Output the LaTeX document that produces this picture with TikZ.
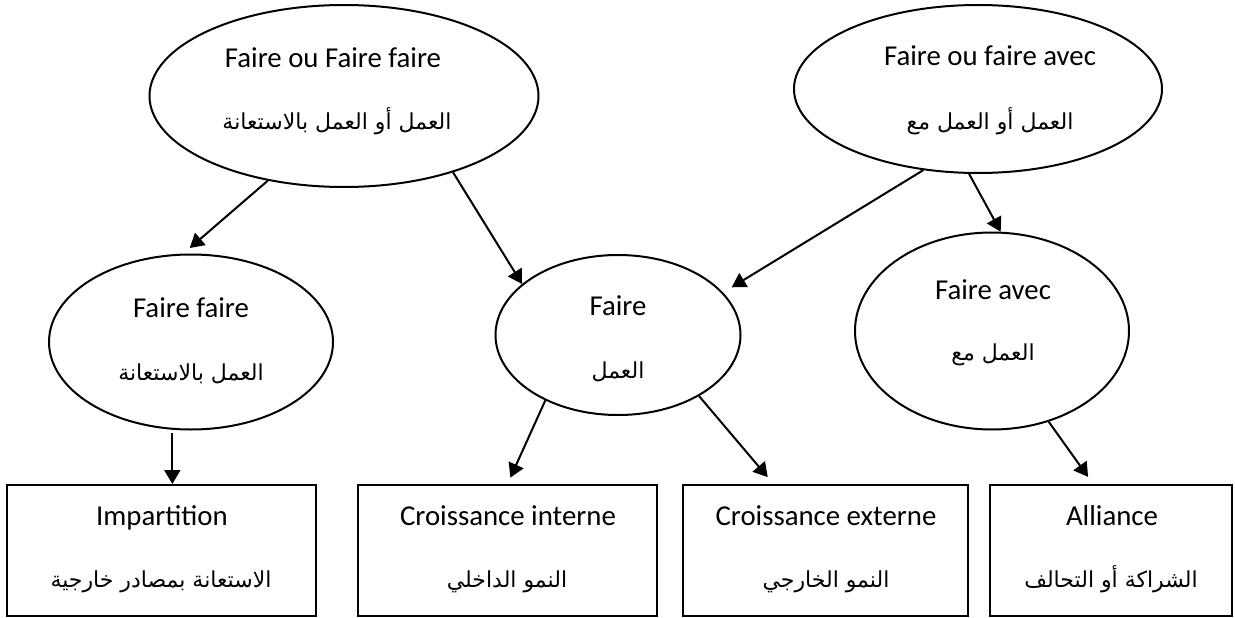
\documentclass[tikz,border=0pt]{standalone}
\usepackage{fontspec}
\setmainfont{Carlito}
\newfontfamily\arabicfont[Script=Arabic]{DejaVu Sans}
\TeXXeTstate=1
\usetikzlibrary{shapes.geometric,arrows.meta,calc}

\tikzset{
  oval/.style={ellipse, draw, line width=2pt, inner sep=0pt},
  box/.style={rectangle, draw, line width=2pt, inner sep=0pt,
              minimum height=131pt},
  lat/.style={inner sep=0pt, anchor=base, font=\fontsize{28.8}{34}\selectfont},
  arb/.style={inner sep=0pt, anchor=base, font=\arabicfont\fontsize{22}{28}\selectfont},
  arr/.style={line width=2pt, -{Triangle[length=14pt,width=16pt]}}
}

\begin{document}
\begin{tikzpicture}[x=1pt,y=-1pt]
\useasboundingbox (0,0) rectangle (1235,618);

% ---- ellipses ----
\node[oval, minimum width=389pt, minimum height=182pt] (e1) at (344,96) {};
\node[oval, minimum width=368pt, minimum height=168pt] (e2) at (978,89) {};
\node[oval, minimum width=284pt, minimum height=175pt] (e3) at (191,342) {};
\node[oval, minimum width=245pt, minimum height=160pt] (e4) at (618,335) {};
\node[oval, minimum width=274pt, minimum height=197pt] (e5) at (992,331) {};

% ---- boxes ----
\node[box, minimum width=309pt] (b1) at (161.5,550.5) {};
\node[box, minimum width=299pt] (b2) at (507.5,550.5) {};
\node[box, minimum width=285pt] (b3) at (825.5,550.5) {};
\node[box, minimum width=242pt] (b4) at (1111,550.5) {};

% ---- labels (placed on their baselines) ----
\node[lat] (e1t) at (333,67) {Faire ou Faire faire};
\node[arb] (e1a) at (337,129) {\beginR العمل أو العمل بالاستعانة\endR};
\node[lat] (e2t) at (990,66) {Faire ou faire avec};
\node[arb] (e2a) at (990,129) {\beginR العمل أو العمل مع\endR};
\node[lat] (e3t) at (191,317) {Faire faire};
\node[arb] (e3a) at (191,380) {\beginR العمل بالاستعانة\endR};
\node[lat] (e4t) at (618,315) {Faire};
\node[arb] (e4a) at (618,378) {\beginR العمل\endR};
\node[lat] (e5t) at (993,299) {Faire avec};
\node[arb] (e5a) at (993,360) {\beginR العمل مع\endR};

\node[lat] (b1t) at (162,525) {Impartition};
\node[arb] (b1a) at (161,587) {\beginR الاستعانة بمصادر خارجية\endR};
\node[lat] (b2t) at (508,525) {Croissance interne};
\node[arb] (b2a) at (507,587) {\beginR النمو الداخلي\endR};
\node[lat] (b3t) at (826,525) {Croissance externe};
\node[arb] (b3a) at (826,587) {\beginR النمو الخارجي\endR};
\node[lat] (b4t) at (1112,525) {Alliance};
\node[arb] (b4a) at (1111,587) {\beginR الشراكة أو التحالف\endR};

% ---- connectors ----
\draw[arr, shorten >=8.6pt] (e1.-132.1) -- (e3.95.6);
\draw[arr] (e1.-35.7) -- (e4.152.7);
\draw[arr, shorten >=10pt] (e2.-124.6) -- (e4.22.5);
\draw[arr] (e2.-96.8) -- (e5.85.8);
\draw[arr, shorten <=3pt] (e3.-102) -- (e3.-102 |- b1.north);
\draw[arr, shorten >=7pt] (e4.-138.2) -- (b2.north);
\draw[arr, shorten >=9pt] (e4.-37.5) -- (b3.128.8);
\draw[arr, shorten >=8.7pt] (e5.-58.6) -- (b4.105.3);
\end{tikzpicture}
\end{document}
